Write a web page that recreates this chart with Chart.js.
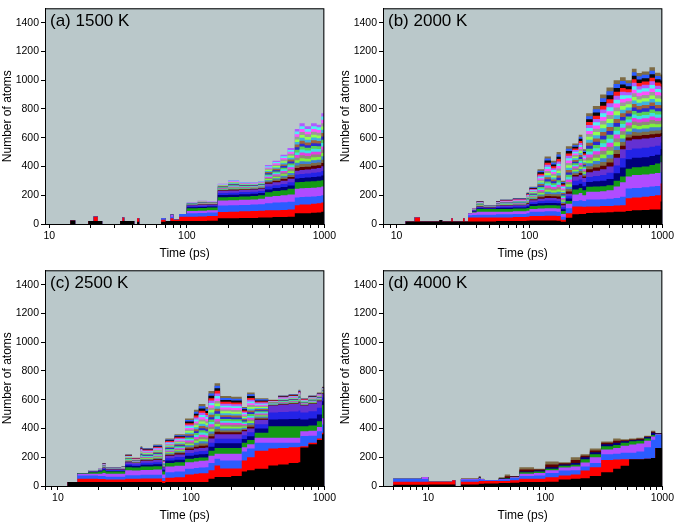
<!DOCTYPE html>
<html>
<head>
<meta charset="utf-8">
<script src="https://cdn.jsdelivr.net/npm/chart.js@4.4.1/dist/chart.umd.min.js"></script>
<style>
  body { margin: 0; background: #fff; }
  #wrap { position: relative; width: 676px; height: 524px; }
  .panel { position: absolute; width: 338px; height: 262px; }
</style>
</head>
<body>
<div id="wrap">
  <div class="panel" style="left:0;top:0"><canvas id="chartA" width="338" height="262"></canvas></div>
  <div class="panel" style="left:338px;top:0"><canvas id="chartB" width="338" height="262"></canvas></div>
  <div class="panel" style="left:0;top:262px"><canvas id="chartC" width="338" height="262"></canvas></div>
  <div class="panel" style="left:338px;top:262px"><canvas id="chartD" width="338" height="262"></canvas></div>
</div>
<script>
// layer thicknesses (atoms); bottom layer first

// (a) 1500 K
const timeA   = [9.2, 14.2, 15.4, 19.2, 21, 22.5, 24.2, 32.7, 34, 35, 41.4, 43.5, 45, 65, 70, 76, 80, 88, 100, 120, 140, 168, 200, 240, 290, 330, 370, 420, 480, 540, 610, 660, 720, 800, 880, 950, 1000];
const blackA  = [0, 25, 0, 20, 20, 20, 0, 20, 20, 20, 0, 15, 0, 15, 20, 20, 20, 20, 20, 20, 22, 40, 40, 42, 42, 45, 45, 48, 48, 50, 75, 75, 75, 78, 80, 85, 90];
const redA    = [0, 0, 0, 0, 30, 0, 0, 0, 25, 0, 0, 25, 0, 15, 0, 20, 10, 30, 30, 32, 33, 44, 45, 46, 48, 47, 50, 47, 50, 50, 55, 60, 60, 62, 65, 65, 65];
const blueA   = [0, 0, 0, 0, 0, 0, 0, 0, 0, 0, 0, 0, 0, 10, 0, 10, 0, 20, 25, 25, 25, 45, 45, 44, 45, 46, 50, 55, 54, 55, 55, 53, 55, 52, 50, 50, 50];
const violetA = [0, 0, 0, 0, 0, 0, 0, 0, 0, 0, 0, 0, 0, 0, 0, 15, 0, 0, 15, 15, 15, 34, 35, 36, 35, 37, 45, 45, 48, 50, 60, 60, 60, 60, 60, 60, 60];
const greenA  = [0, 0, 0, 0, 0, 0, 0, 0, 0, 0, 0, 0, 0, 0, 0, 0, 0, 0, 20, 20, 20, 23, 23, 24, 25, 25, 30, 35, 35, 40, 45, 44, 45, 46, 45, 45, 45];
const darkA   = [0, 0, 0, 0, 0, 0, 0, 0, 0, 0, 0, 0, 0, 0, 0, 0, 0, 0, 7, 7, 7, 15, 15, 15, 15, 15, 20, 20, 22, 23, 27, 28, 28, 29, 30, 32, 33];
const stripeA = [0, 0, 0, 0, 0, 0, 0, 0, 0, 0, 0, 0, 0, 0, 0, 0, 0, 0, 1.3, 1.8, 1.3, 3.1, 4.6, 3.4, 3.1, 3.4, 8.1, 9.4, 11.3, 13.4, 18.1, 20.3, 18.8, 19.7, 18.8, 23.1, 26.3];

// (b) 2000 K
const timeB   = [8, 11.7, 13.7, 15, 21, 22, 25.8, 26.5, 31.6, 32.5, 34.5, 37, 40, 45, 56, 60, 75, 95, 100, 115, 130, 145, 160, 172, 188, 210, 235, 250, 267, 300, 340, 380, 430, 480, 530, 590, 640, 700, 800, 880, 970, 1000];
const blackB  = [0, 18, 18, 18, 28, 18, 18, 18, 18, 18, 18, 18, 18, 18, 20, 20, 20, 22, 25, 25, 25, 25, 22, 15, 43, 68, 70, 70, 77, 78, 80, 82, 85, 85, 90, 95, 95, 98, 100, 100, 156, 156];
const redB    = [0, 0, 27, 0, 0, 0, 22, 0, 22, 0, 27, 27, 27, 27, 25, 25, 28, 28, 30, 30, 33, 33, 33, 15, 32, 54, 52, 50, 45, 44, 45, 43, 43, 45, 89, 90, 90, 92, 95, 100, 125, 125];
const blueB   = [0, 0, 0, 0, 0, 0, 0, 0, 0, 0, 15, 17, 20, 20, 23, 23, 22, 25, 30, 30, 30, 30, 30, 20, 35, 38, 43, 40, 48, 48, 47, 50, 52, 60, 68, 65, 65, 65, 65, 65, 79, 79];
const violetB = [0, 0, 0, 0, 0, 0, 0, 0, 0, 0, 15, 18, 20, 20, 18, 18, 18, 17, 20, 23, 22, 22, 23, 20, 30, 45, 50, 40, 55, 55, 56, 60, 80, 100, 83, 90, 90, 90, 90, 90, 70, 70];
const greenB  = [0, 0, 0, 0, 0, 0, 0, 0, 0, 0, 0, 5, 20, 20, 19, 19, 20, 20, 20, 20, 20, 20, 20, 20, 20, 35, 35, 35, 34, 35, 34, 35, 40, 40, 55, 55, 55, 55, 60, 65, 46, 46];
const darkB   = [0, 0, 0, 0, 0, 0, 0, 0, 0, 0, 0, 3.3, 5, 3.3, 6.7, 7.7, 7.3, 9.3, 13.3, 15.7, 16.7, 16.7, 15.7, 13.3, 16.7, 30, 30, 28.3, 33.7, 36.7, 39.3, 43.3, 53.3, 63.3, 65, 65, 65, 65, 63.3, 61.7, 45.3, 45.3];
const stripeB = [0, 0, 0, 0, 0, 0, 0, 0, 0, 0, 0, 0.75, 2, 0.75, 1.75, 2.1, 2.5, 4, 4.75, 10.25, 14.5, 13, 16.25, 8.5, 16.5, 11.5, 14, 10, 20.5, 22.5, 26, 27.5, 27, 25, 21, 24.5, 23, 23.3, 24.5, 22.3, 21.4, 20.9];

// (c) 2500 K
const timeC   = [8, 11.8, 14, 17, 20, 21.6, 22.8, 30, 32, 36, 41.7, 43, 52, 60.6, 64, 75, 90, 105, 114, 128, 135, 150, 165, 200, 240, 263, 300, 380, 450, 540, 640, 660, 760, 880, 960, 1000];
const blackC  = [0, 27, 27, 27, 27, 27, 27, 27, 27, 27, 27, 27, 27, 20, 28, 28, 28, 28, 28, 28, 50, 63, 63, 70, 100, 110, 120, 143, 150, 160, 165, 267, 290, 320, 360, 369];
const redC    = [0, 0, 23, 23, 21, 21, 18, 18, 23, 23, 25, 25, 25, 15, 30, 32, 52, 57, 60, 60, 60, 80, 59, 52, 77, 90, 125, 117, 115, 110, 107, 10, 10, 10, 10, 10];
const blueC   = [0, 0, 23, 23, 22, 22, 20, 20, 25, 25, 26, 26, 26, 20, 37, 40, 40, 40, 40, 43, 50, 47, 55, 55, 63, 60, 56, 41, 36, 31, 29, 70, 50, 50, 58, 49];
const violetC = [0, 0, 12, 12, 15, 20, 20, 20, 35, 33, 34, 34, 37, 25, 40, 40, 45, 45, 47, 46, 50, 35, 47, 47, 30, 30, 34, 34, 34, 34, 34, 34, 35, 30, 43, 43];
const greenC  = [0, 0, 3, 10, 15, 20, 15, 15, 20, 20, 23, 23, 23, 20, 25, 25, 25, 25, 23, 22, 35, 40, 41, 41, 30, 30, 35, 80, 80, 80, 80, 34, 35, 40, 93, 93];
const darkC   = [0, 0, 0, 1.7, 3.3, 5, 5, 5, 11.7, 10.7, 13.3, 13.3, 14, 10, 16.7, 18.3, 20, 21.7, 22.3, 22.7, 28.3, 31.7, 31.7, 31.7, 26.7, 26.7, 30, 48.3, 50, 51.7, 55, 48.3, 50, 46.7, 25.3, 28.7];
const stripeC = [0, 0, 0, 0.5, 0.75, 1.75, 0.75, 1, 2.75, 1.85, 5.1, 4.5, 5.4, 2.5, 6, 7, 11, 13.5, 15.25, 14.15, 16.5, 17.75, 13.25, 13, 8.5, 12.5, 7.5, 2, 3.25, 3.5, 4.5, 2.5, 3, 3, 2.5, 2.5];

// (d) 4000 K
const timeD   = [5, 8.8, 10, 16, 17, 19, 27, 28, 30, 40, 45, 50, 60, 80, 100, 130, 165, 200, 240, 300, 380, 440, 520, 600, 700, 800, 870, 1000];
const blackD  = [8, 8, 10, 10, 0, 10, 15, 15, 18, 20, 20, 22, 27, 27, 30, 45, 50, 54, 70, 95, 120, 141, 186, 186, 190, 195, 265, 265];
const redD    = [22, 22, 20, 30, 0, 20, 20, 20, 17, 15, 15, 18, 23, 23, 30, 28, 30, 53, 60, 86, 65, 45, 0, 0, 0, 0, 0, 0];
const blueD   = [20, 18, 0, 0, 0, 15, 15, 10, 5, 10, 10, 15, 20, 23, 30, 34, 30, 28, 30, 39, 40, 45, 45, 54, 80, 127, 91, 91];
const violetD = [0, 14, 0, 0, 0, 3, 5, 3, 0, 3, 3, 5, 15, 18, 20, 22, 25, 28, 40, 34, 40, 49, 57, 55, 45, 23, 4, 4];
const greenD  = [0, 0, 0, 0, 0, 0, 3, 0, 0, 2, 4, 2, 10, 9, 10, 12, 13, 23, 20, 23, 20, 20, 23, 20, 15, 10, 2, 2];
const darkD   = [0, 0, 0, 0, 0, 0, 2, 0, 0, 2, 3, 3, 5, 8, 10, 9, 12, 14, 15, 13, 15, 12, 7, 7, 10, 15, 3, 3];
const stripeD = [0, 0, 0, 0, 0, 2, 4, 1, 1, 4, 12.5, 2.5, 15, 6, 20, 7.5, 20, 10, 12.5, 10, 15, 6.5, 6, 6.5, 5, 7.5, 1.5, 1.5];

const majorColors = ["#000000", "#ff0000", "#2b5cff", "#b04cff", "#139a13"];
const darkColors = ["#00007a", "#2323e6", "#6431d2"];
const stripeColors = ["#5c0000", "#7d6b45", "#3f7fd0", "#7ef03c", "#8c8c78", "#e43de4", "#3ee0e0", "#55d055",
                      "#2a2ad0", "#a0603a", "#40b0e0", "#90ff50", "#9a9a9a", "#ff50ff", "#50f0f0", "#b05cff",
                      "#ff1a1a", "#0a0a0a", "#2b5cff", "#7d6b45"];

const FONT = "'Liberation Sans', Arial, sans-serif";

const panels = [
    { id: "chartA", label: "(a) 1500 K", xMin: 9.3, time: timeA, layers: [blackA, redA, blueA, violetA, greenA], dark: darkA, nDark: 3, stripe: stripeA, nStripe: 16 },
    { id: "chartB", label: "(b) 2000 K", xMin: 7.9, time: timeB, layers: [blackB, redB, blueB, violetB, greenB], dark: darkB, nDark: 3, stripe: stripeB, nStripe: 20 },
    { id: "chartC", label: "(c) 2500 K", xMin: 8, time: timeC, layers: [blackC, redC, blueC, violetC, greenC], dark: darkC, nDark: 3, stripe: stripeC, nStripe: 20 },
    { id: "chartD", label: "(d) 4000 K", xMin: 4.1, time: timeD, layers: [blackD, redD, blueD, violetD, greenD], dark: darkD, nDark: 1, stripe: stripeD, nStripe: 2 }
];

// plot background + frame + panel label
const panelDeco = {
    id: "panelDeco",
    beforeDraw(chart) {
        const a = chart.chartArea, ctx = chart.ctx;
        ctx.save();
        ctx.fillStyle = "#bac8ca";
        ctx.fillRect(a.left, a.top, a.right - a.left, a.bottom - a.top);
        ctx.restore();
    },
    afterDatasetsDraw(chart, args, opts) {
        const a = chart.chartArea, ctx = chart.ctx;
        ctx.save();
        ctx.strokeStyle = "#000";
        ctx.lineWidth = 1;
        ctx.strokeRect(a.left + 0.5, a.top + 0.5, a.right - a.left - 1, a.bottom - a.top);
        ctx.fillStyle = "#000";
        ctx.font = "17px " + FONT;
        ctx.textBaseline = "alphabetic";
        ctx.fillText(opts.text, a.left + 5, a.top + 18);
        ctx.restore();
    }
};

function buildDatasets(p) {
    const series = [];
    p.layers.forEach((arr, i) => series.push({ vals: arr, color: majorColors[i] }));
    for (let k = 0; k < p.nDark; k++) series.push({ vals: p.dark, color: darkColors[k] });
    for (let k = 0; k < p.nStripe; k++) series.push({ vals: p.stripe, color: stripeColors[k % stripeColors.length] });
    return series.map(s => ({
        data: p.time.map((t, j) => ({ x: t, y: s.vals[j] })),
        backgroundColor: s.color,
        borderWidth: 0,
        pointRadius: 0,
        stepped: "before",   // value holds until the next time point
        fill: "origin"
    }));
}

panels.forEach(p => {
    const ctx = document.getElementById(p.id).getContext("2d");
    new Chart(ctx, {
        type: "line",
        data: { datasets: buildDatasets(p) },
        plugins: [panelDeco],
        options: {
            responsive: false,
            animation: false,
            layout: { padding: { top: 3, right: 12, left: 0, bottom: 0 } },
            plugins: {
                legend: { display: false },
                tooltip: { enabled: false },
                panelDeco: { text: p.label }
            },
            scales: {
                x: {
                    type: "logarithmic",
                    min: p.xMin,
                    max: 1000,
                    afterBuildTicks(scale) {
                        const ticks = [];
                        [1, 10, 100].forEach(dec => {
                            for (let m = 1; m <= 9; m++) {
                                const v = m * dec;
                                if (v >= p.xMin && v < 1000) ticks.push({ value: v });
                            }
                        });
                        ticks.push({ value: 1000 });
                        scale.ticks = ticks;
                    },
                    afterFit(scale) { scale.height = 38; },
                    ticks: {
                        autoSkip: false,
                        maxRotation: 0,
                        padding: 2,
                        color: "#000",
                        font: { family: FONT, size: 10.5 },
                        callback: v => ([10, 100, 1000].includes(v) ? String(v) : "")
                    },
                    grid: { drawOnChartArea: false, drawTicks: true, tickLength: 4, tickColor: "#000" },
                    border: { color: "#000", width: 1 },
                    title: { display: true, text: "Time (ps)", color: "#000", font: { family: FONT, size: 12 }, padding: { top: 0, bottom: 1 } }
                },
                y: {
                    stacked: true,
                    min: 0,
                    max: 1500,
                    afterFit(scale) { scale.width = 45; },
                    ticks: {
                        stepSize: 100,
                        padding: 2,
                        color: "#000",
                        font: { family: FONT, size: 10.5 },
                        callback: v => (v % 200 === 0 && v <= 1400 ? String(v) : "")
                    },
                    grid: { drawOnChartArea: false, drawTicks: true, tickLength: 4, tickColor: "#000" },
                    border: { color: "#000", width: 1 },
                    title: { display: true, text: "Number of atoms", color: "#000", font: { family: FONT, size: 12 }, padding: { top: 0, bottom: 0 } }
                }
            }
        }
    });
});
</script>
</body>
</html>
